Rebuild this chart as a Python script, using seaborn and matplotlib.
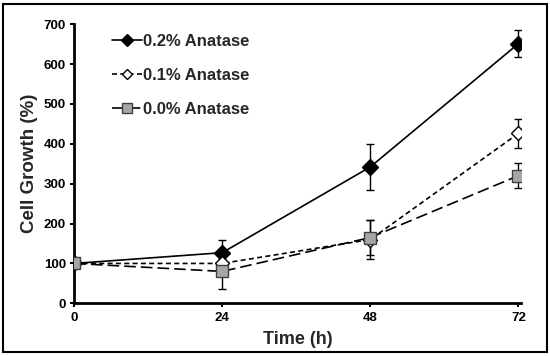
import matplotlib
matplotlib.use("Agg")
import matplotlib.pyplot as plt
import seaborn as sns
import pandas as pd
from matplotlib.patches import Rectangle

sns.set_theme(style="white")
plt.rcParams['font.family'] = ['Liberation Sans', 'DejaVu Sans']
plt.rcParams['font.weight'] = 'bold'

time_h = [0, 24, 48, 72]
series_names = ["0.2% Anatase", "0.1% Anatase", "0.0% Anatase"]
growth_02 = [100, 127, 342, 651]
growth_01 = [100, 100, 160, 426]
growth_00 = [100, 80, 165, 320]
err_02 = [0, 33, 58, 34]
err_01 = [0, 10, 50, 36]
err_00 = [0, 45, 44, 31]

values = [growth_02, growth_01, growth_00]
errors = [err_02, err_01, err_00]
styles = [
    dict(marker='D', mfc='black', mec='black', ms=8, dashes=None),
    dict(marker='D', mfc='white', mec='black', ms=7, dashes=(3, 2)),
    dict(marker='s', mfc='#a6a6a6', mec='#404040', ms=9, dashes=(7, 3)),
]

fig, ax = plt.subplots(figsize=(5.5, 3.56), dpi=100)
fig.subplots_adjust(left=0.135, right=0.948, top=0.932, bottom=0.148)

for name, v, e, st in zip(series_names, values, errors, styles):
    df = pd.DataFrame({"Time": time_h, "Growth": v})
    sns.lineplot(x="Time", y="Growth", data=df, ax=ax, color='black', lw=1.2,
                 marker=st['marker'], markerfacecolor=st['mfc'],
                 markeredgecolor=st['mec'], markersize=st['ms'],
                 markeredgewidth=1.0, label=name, zorder=3)
    ln = ax.get_lines()[-1]
    if st['dashes'] is not None:
        ln.set_dashes(st['dashes'])
    ax.errorbar(time_h, v, yerr=e, fmt='none', ecolor='black', elinewidth=1.0,
                capsize=3, capthick=1.0, zorder=2)

ax.set_xlim(0, 72.5)
ax.set_ylim(0, 700)
ax.set_xticks(time_h)
ax.set_yticks(range(0, 701, 100))
ax.tick_params(axis='both', labelsize=9.5, direction='out', length=3, width=1.5,
               bottom=True, left=True, pad=3, colors='black')
for lbl in ax.get_xticklabels() + ax.get_yticklabels():
    lbl.set_fontweight('bold')
for s in ['top', 'right']:
    ax.spines[s].set_visible(False)
for s in ['left', 'bottom']:
    ax.spines[s].set_color('black')
    ax.spines[s].set_linewidth(2)
ax.set_xlabel("Time (h)", fontsize=13, fontweight='bold', labelpad=5)
ax.set_ylabel("Cell Growth (%)", fontsize=13.5, fontweight='bold', labelpad=4)

leg = ax.legend(loc='upper left', bbox_to_anchor=(0.05, 1.02), frameon=False,
                handlelength=1.8, handletextpad=0.1, markerscale=0.75,
                labelspacing=1.15, prop={'weight': 'bold', 'size': 12})

fig.patches.append(Rectangle((0.006, 0.01), 0.988, 0.98, transform=fig.transFigure,
                             fill=False, edgecolor='black', lw=1.5))

fig.savefig("out.png", dpi=100)
